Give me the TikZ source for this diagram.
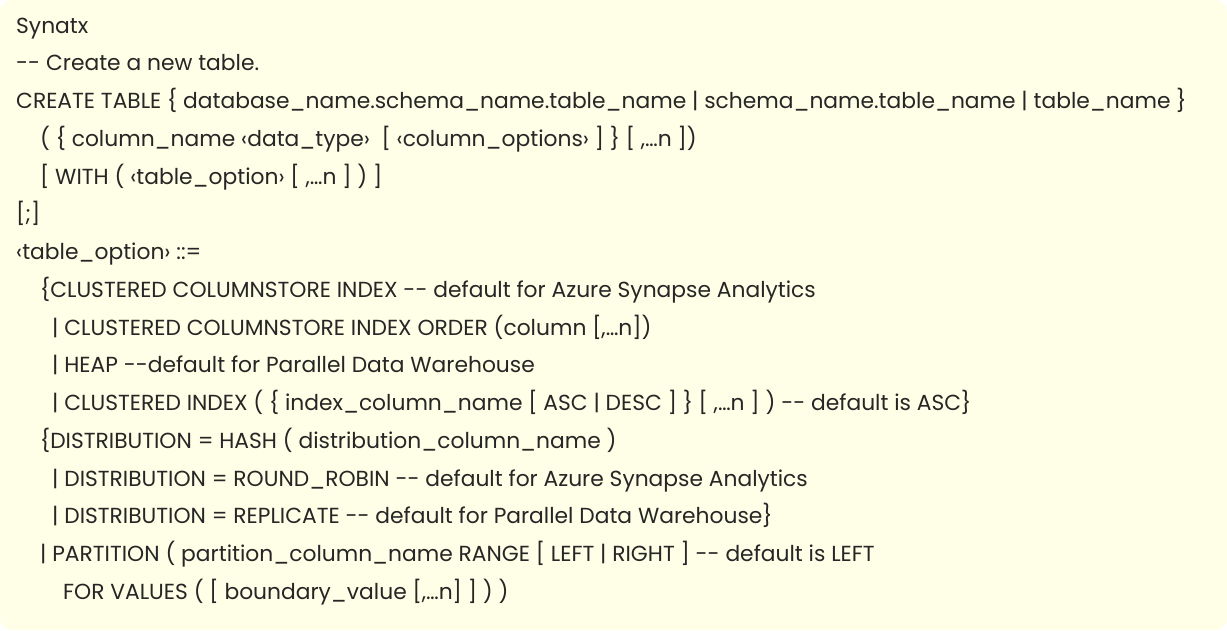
\documentclass[tikz,border=0pt]{standalone}
\usepackage{fontspec}
\setmainfont[Ligatures=NoCommon]{Poppins}
\begin{document}
\begin{tikzpicture}[x=1pt,y=-1pt,
  ln/.style={anchor=base west,inner sep=0pt,font=\fontsize{21.8}{24}\selectfont,text=black!85}]
\fill[white] (0,0) rectangle (1227,630);
\fill[rounded corners=12pt,fill={rgb,255:red,255;green,254;blue,230}] (0,0) rectangle (1227,630);
\def\b#1{\fpeval{33+37.75*#1}}
\def\dd{-{}-}
\node[ln] (l0) at (16,\b{0}) {Synatx};
\node[ln] (l1) at (16,\b{1}) {\dd{} Create a new table.};
\node[ln] (l2) at (16,\b{2}) {CREATE TABLE \{ database\_name.schema\_name.table\_name | schema\_name.table\_name | table\_name \}};
\node[ln] (l3) at (40,\b{3}) {( \{ column\_name ‹data\_type›~ [ ‹column\_options› ] \} [ ,…n ])};
\node[ln] (l4) at (40,\b{4}) {[ WITH ( ‹table\_option› [ ,…n ] ) ]};
\node[ln] (l5) at (16,\b{5}) {[;]};
\node[ln] (l6) at (16,\b{6}) {‹table\_option› ::=};
\node[ln] (l7) at (40,\b{7}) {\{CLUSTERED COLUMNSTORE INDEX \dd{} default for Azure Synapse Analytics};
\node[ln] (l8) at (52,\b{8}) {| CLUSTERED COLUMNSTORE INDEX ORDER (column [,…n])};
\node[ln] (l9) at (52,\b{9}) {| HEAP \dd default for Parallel Data Warehouse};
\node[ln] (l10) at (52,\b{10}) {| CLUSTERED INDEX ( \{ index\_column\_name [ ASC | DESC ] \} [ ,…n ] ) \dd{} default is ASC\}};
\node[ln] (l11) at (40,\b{11}) {\{DISTRIBUTION = HASH ( distribution\_column\_name )};
\node[ln] (l12) at (52,\b{12}) {| DISTRIBUTION = ROUND\_ROBIN \dd{} default for Azure Synapse Analytics};
\node[ln] (l13) at (52,\b{13}) {| DISTRIBUTION = REPLICATE \dd{} default for Parallel Data Warehouse\}};
\node[ln] (l14) at (40,\b{14}) {| PARTITION ( partition\_column\_name RANGE [ LEFT | RIGHT ] \dd{} default is LEFT};
\node[ln] (l15) at (63,\b{15}) {FOR VALUES ( [ boundary\_value [,…n] ] ) )};
\end{tikzpicture}
\end{document}
